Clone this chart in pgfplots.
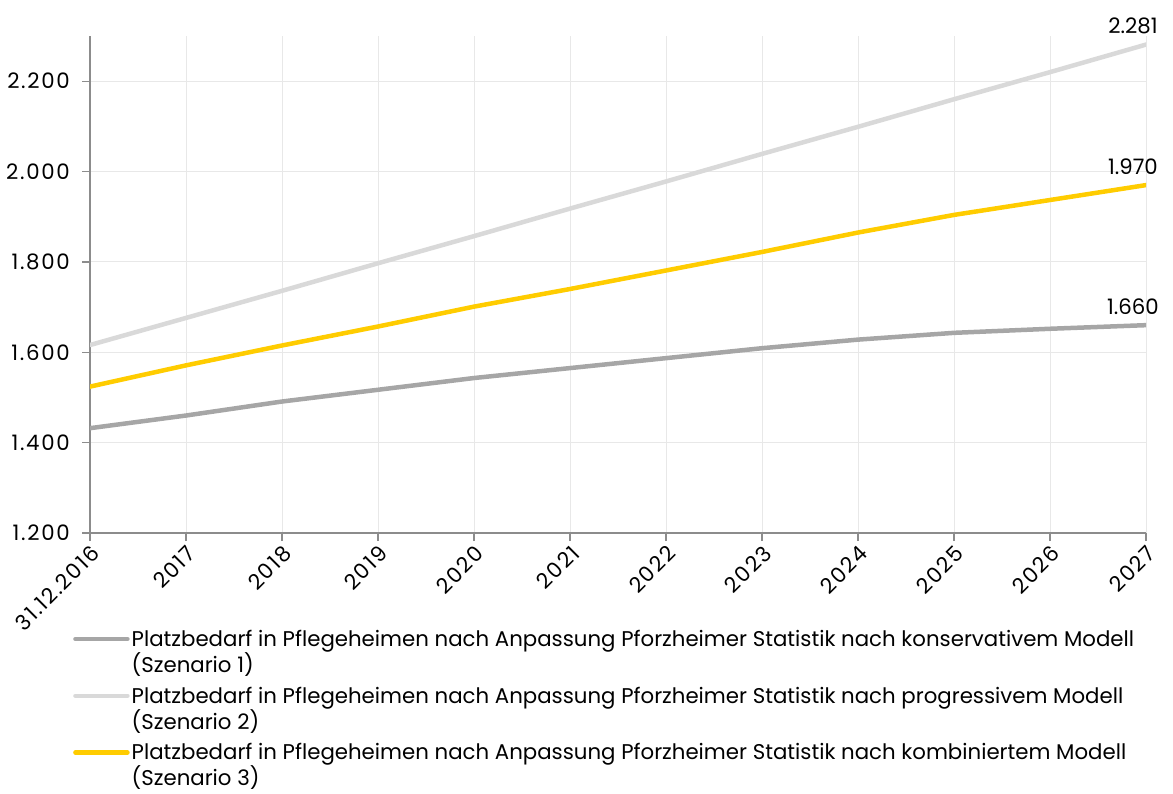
\documentclass[border=0pt]{standalone}
\usepackage{pgfplots}
\pgfplotsset{compat=1.18}
\usepackage{fontspec}
\setmainfont{Poppins}
\definecolor{szA}{HTML}{A6A6A6}
\definecolor{szB}{HTML}{D9D9D9}
\definecolor{szC}{HTML}{FFCC00}
\definecolor{axisgray}{HTML}{8C8C8C}
\definecolor{gridgray}{HTML}{E8E8E8}
\newcommand\chartfont{\fontsize{21.3}{26}\selectfont}
\newcommand\tickfont{\fontsize{21.3}{26}\selectfont\addfontfeature{LetterSpace=8}}
\begin{document}
\begin{tikzpicture}[x=1pt,y=1pt]
\useasboundingbox (0,0) rectangle (1173,793);
\begin{axis}[
  at={(90pt,260pt)}, anchor=south west,
  scale only axis, width=1056pt, height=497pt,
  xmin=0, xmax=11, ymin=1200, ymax=2300,
  xtick={0,...,11},
  xticklabels={31.12.2016,2017,2018,2019,2020,2021,2022,2023,2024,2025,2026,2027},
  ytick={1200,1400,...,2200},
  axis x line*=bottom, axis y line*=left,
  axis line style={axisgray, line width=1.3pt},
  grid=major, major grid style={gridgray, line width=1pt},
  tick style={axisgray, line width=1.3pt},
  tick align=outside, major tick length=8pt,
  /pgf/number format/.cd, 1000 sep={.}, assume math mode=true, /pgfplots/.cd,
  tick label style={font=\tickfont, text=black},
  xticklabel style={rotate=45, anchor=north east, inner sep=2pt},
  yticklabel style={inner sep=2pt, xshift=-10pt},
  legend style={at={(axis description cs:-0.0161,-0.191)}, anchor=north west,
    draw=none, fill=none, inner sep=0pt, row sep=9pt,
    font=\chartfont,
    cells={anchor=west, align=left}},
  legend cell align=left,
  legend image code/.code={%
    \path[draw=none] (0pt,-13pt) -- (56pt,-13pt);
    \draw[#1, line width=4.5pt, line cap=round] (2pt,13pt) -- (54pt,13pt);},
  every axis plot/.append style={line width=4.5pt, line cap=round, line join=round, mark=none},
  nodes near coords style={font=\chartfont, text=black, anchor=south, xshift=-13pt, yshift=5pt},
]
% Szenario 1: konservatives Modell
\addplot[szA] coordinates {(0,1432) (1,1460) (2,1491) (3,1517) (4,1543) (5,1565) (6,1587) (7,1609) (8,1628) (9,1643) (10,1652) (11,1660)};
\addlegendentry{{Platzbedarf in Pflegeheimen nach Anpassung Pforzheimer Statistik nach konservativem Modell\\(Szenario 1)}}
% Szenario 2: progressives Modell
\addplot[szB] coordinates {(0,1616) (1,1676) (2,1736) (3,1797) (4,1857) (5,1918) (6,1978) (7,2039) (8,2099) (9,2160) (10,2220) (11,2281)};
\addlegendentry{{Platzbedarf in Pflegeheimen nach Anpassung Pforzheimer Statistik nach progressivem Modell\\(Szenario 2)}}
% Szenario 3: kombiniertes Modell
\addplot[szC] coordinates {(0,1524) (1,1571) (2,1615) (3,1657) (4,1701) (5,1740) (6,1781) (7,1822) (8,1865) (9,1904) (10,1937) (11,1970)};
\addlegendentry{{Platzbedarf in Pflegeheimen nach Anpassung Pforzheimer Statistik nach kombiniertem Modell\\(Szenario 3)}}
% Endwerte
\addplot[draw=none, forget plot, nodes near coords={1.660}] coordinates {(11,1660)};
\addplot[draw=none, forget plot, nodes near coords={2.281}] coordinates {(11,2281)};
\addplot[draw=none, forget plot, nodes near coords={1.970}] coordinates {(11,1970)};
\end{axis}
\end{tikzpicture}
\end{document}
